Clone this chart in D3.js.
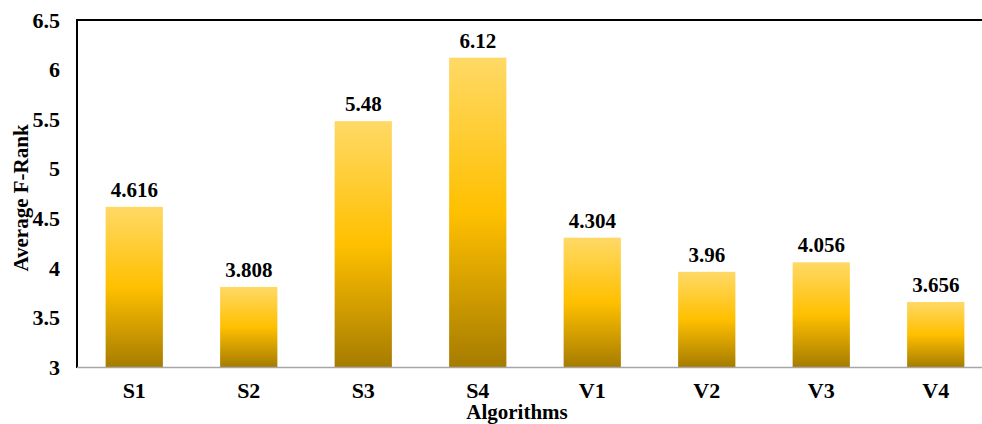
<!DOCTYPE html>
<html>
<head>
<meta charset="utf-8">
<script src="https://cdn.jsdelivr.net/npm/d3@7"></script>
<style>
  html, body { margin: 0; padding: 0; background: #fff; }
  svg { display: block; overflow: hidden; }
</style>
</head>
<body>
<svg id="chart" width="982" height="424"></svg>
<script>
// Average F-Rank per algorithm
const categories = ["S1", "S2", "S3", "S4", "V1", "V2", "V3", "V4"];
const values = [4.616, 3.808, 5.48, 6.12, 4.304, 3.96, 4.056, 3.656];
const labels = ["4.616", "3.808", "5.48", "6.12", "4.304", "3.96", "4.056", "3.656"];
const yTicks = [3, 3.5, 4, 4.5, 5, 5.5, 6, 6.5];
const yTickLabels = ["3", "3.5", "4", "4.5", "5", "5.5", "6", "6.5"];

const FONT = "Liberation Serif";
const svg = d3.select("#chart");
const plotLeft = 77, plotRight = 993, plotTop = 20, plotBottom = 367;

const x = d3.scaleBand().domain(categories).range([plotLeft, plotRight]).paddingInner(0.5).paddingOuter(0.25);
const y = d3.scaleLinear().domain([3, 6.5]).range([plotBottom, plotTop]);

// shared serif bold styling for every text element
function styleText(sel, size) {
  sel.attr("font-family", FONT).attr("font-weight", "bold")
     .attr("font-size", size).attr("fill", "#000");
}

// vertical gold gradient for the bars
const defs = svg.append("defs");
const grad = defs.append("linearGradient")
  .attr("id", "gold").attr("x1", 0).attr("y1", 0).attr("x2", 0).attr("y2", 1);
grad.append("stop").attr("offset", "0%").attr("stop-color", "#FFD966");
grad.append("stop").attr("offset", "50%").attr("stop-color", "#FFC000");
grad.append("stop").attr("offset", "100%").attr("stop-color", "#A67C00");

// bars
svg.append("g").selectAll("rect")
  .data(values)
  .join("rect")
  .attr("x", (d, i) => x(categories[i]))
  .attr("width", x.bandwidth())
  .attr("y", d => y(d))
  .attr("height", d => y(3) - y(d))
  .attr("fill", "url(#gold)");

// value labels
svg.append("g").selectAll("text")
  .data(values)
  .join("text")
  .attr("x", (d, i) => x(categories[i]) + x.bandwidth() / 2)
  .attr("y", d => y(d) - 10)
  .attr("text-anchor", "middle")
  .call(styleText, 21)
  .text((d, i) => labels[i]);

// frame: top border and left axis line
svg.append("line").attr("x1", plotLeft).attr("x2", 982).attr("y1", plotTop).attr("y2", plotTop)
  .attr("stroke", "#000").attr("stroke-width", 2);
svg.append("line").attr("x1", plotLeft).attr("x2", plotLeft).attr("y1", plotTop - 1).attr("y2", plotBottom + 1)
  .attr("stroke", "#000").attr("stroke-width", 2);
// x baseline
svg.append("line").attr("x1", plotLeft).attr("x2", 982).attr("y1", plotBottom + 0.5).attr("y2", plotBottom + 0.5)
  .attr("stroke", "#A6A6A6").attr("stroke-width", 1.5);

// y tick labels
const yAxis = d3.axisLeft(y).tickValues(yTicks).tickSize(0).tickPadding(0)
  .tickFormat((d, i) => yTickLabels[i]);
const gy = svg.append("g").attr("transform", "translate(60,0)").call(yAxis);
gy.call(styleText, 22);
gy.select(".domain").remove();
gy.selectAll("text").call(styleText, 22).attr("dy", "0.33em");

// x category labels
const xAxis = d3.axisBottom(x).tickSize(0).tickPadding(0);
const gx = svg.append("g").attr("transform", "translate(0,398)").call(xAxis);
gx.call(styleText, 22);
gx.select(".domain").remove();
gx.selectAll("text").call(styleText, 22).attr("dy", 0);

// axis titles
svg.append("text").attr("x", 517).attr("y", 419).attr("text-anchor", "middle")
  .call(styleText, 21).text("Algorithms");
svg.append("text").attr("transform", "translate(28,198) rotate(-90)").attr("text-anchor", "middle")
  .call(styleText, 21).text("Average F-Rank");
</script>
</body>
</html>
